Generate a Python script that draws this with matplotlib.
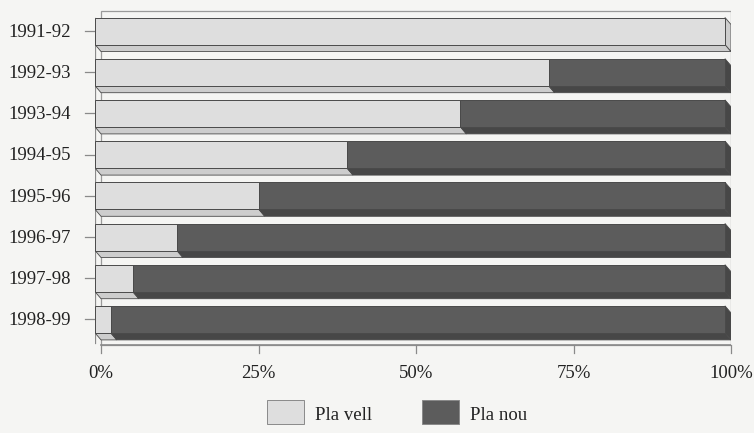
import matplotlib
matplotlib.use("Agg")
import matplotlib.pyplot as plt
from matplotlib.patches import Polygon, Rectangle

# ---- data ----
categories = ["1991-92", "1992-93", "1993-94", "1994-95",
              "1995-96", "1996-97", "1997-98", "1998-99"]
pla_vell = [100, 72, 58, 40, 26, 13, 6, 2.5]
pla_nou = [100 - v for v in pla_vell]
tick_vals = [0, 25, 50, 75, 100]
tick_labels = ["0%", "25%", "50%", "75%", "100%"]
series_names = ["Pla vell", "Pla nou"]

# ---- style ----
W, H, DPI = 754, 433, 100
bg = "#f5f5f3"
c_vell, c_vell_side = "#dedede", "#cdcdcd"
c_nou, c_nou_side = "#5c5c5c", "#474747"
edge = "#4a4a4a"
font = "Liberation Serif"
fs = 13.5

fig = plt.figure(figsize=(W / DPI, H / DPI), dpi=DPI, facecolor=bg)

# pixel layout
px_left, px_right = 95, 731
px_top, px_bottom = 5, 355
row0, row_step = 31, 41.2
px_per_unit = 6.3           # pixels per percentage point (front face)
dx = 6 / px_per_unit        # depth offset in x (data units)
dy = 7 / row_step           # depth offset in y (data units)
bar_h = 27 / row_step

ax = fig.add_axes([px_left / W, 1 - px_bottom / H,
                   (px_right - px_left) / W, (px_bottom - px_top) / H])
ax.set_facecolor(bg)
xmax = (px_right - px_left) / px_per_unit
ax.set_xlim(0, xmax)
ytop = -(row0 - px_top) / row_step
ybot = (px_bottom - row0) / row_step
ax.set_ylim(ybot, ytop)
for s in ax.spines.values():
    s.set_visible(False)
ax.set_xticks([])
ax.set_yticks([])

# back wall frame
wall_top = -(row0 - 11) / row_step
wall_bot = (345 - row0) / row_step
ax.add_patch(Rectangle((dx, wall_top), 100, wall_bot - wall_top,
                       facecolor="none", edgecolor="#9a9a9a", lw=0.9, zorder=1))
# front left edge
ax.plot([0, 0], [wall_top + dy, wall_bot - 0.05], color="#8a8a8a", lw=0.9, zorder=1)
# bottom axis
ax.plot([dx, 100 + dx], [wall_bot, wall_bot], color="#8a8a8a", lw=1.2, zorder=1)

# x ticks and labels
tick_len = 8 / row_step
for v, lab in zip(tick_vals, tick_labels):
    ax.plot([v + dx, v + dx], [wall_bot, wall_bot + tick_len], color="#8a8a8a",
            lw=0.9, clip_on=False)
    ax.text(v + dx, (373 - row0) / row_step, lab, ha="center", va="center",
            fontsize=fs, family=font, color="#222222")

# bars with pseudo-3D depth
for i, (cat, a, b) in enumerate(zip(categories, pla_vell, pla_nou)):
    yc = i
    y0, y1 = yc - bar_h / 2, yc + bar_h / 2
    segs = [(0, a, c_vell, c_vell_side), (a, a + b, c_nou, c_nou_side)]
    for x0, x1, fc, sc in segs:
        if x1 - x0 <= 0:
            continue
        # bottom depth face
        ax.add_patch(Polygon([(x0, y1), (x1, y1), (x1 + dx, y1 + dy), (x0 + dx, y1 + dy)],
                             closed=True, facecolor=sc, edgecolor=edge, lw=0.6, zorder=2))
        # front face
        ax.add_patch(Rectangle((x0, y0), x1 - x0, bar_h, facecolor=fc,
                               edgecolor=edge, lw=0.7, zorder=3))
    # right end depth face
    xe = a + b
    fc_end = c_nou_side if b > 0 else c_vell_side
    ax.add_patch(Polygon([(xe, y0), (xe + dx, y0 + dy), (xe + dx, y1 + dy), (xe, y1)],
                         closed=True, facecolor=fc_end, edgecolor=edge, lw=0.6, zorder=2))
    # y tick and label
    ax.plot([-10 / px_per_unit, 0], [yc, yc], color="#8a8a8a", lw=0.9, clip_on=False)
    ax.text(-(px_left - 71) / px_per_unit, yc + 0.03, cat, ha="right", va="center",
            fontsize=fs, family=font, color="#222222")

# legend (manual)
leg_y0 = 1 - 424 / H
leg_h = 24 / H
for x0, fc, name in [(267, c_vell, series_names[0]), (422, c_nou, series_names[1])]:
    fig.patches.append(Rectangle((x0 / W, leg_y0), 37 / W, leg_h, transform=fig.transFigure,
                                 facecolor=fc, edgecolor="#8a8a8a", lw=0.7))
    fig.text((x0 + 48) / W, 1 - 415 / H, name, ha="left", va="center",
             fontsize=fs, family=font, color="#222222")

fig.savefig("out.png", dpi=DPI, facecolor=bg)
